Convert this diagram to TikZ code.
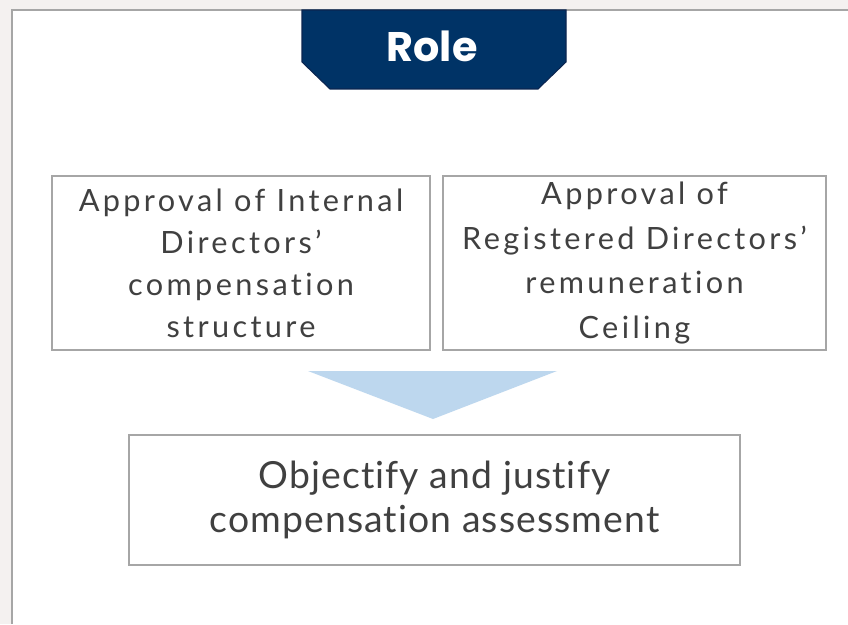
\documentclass[tikz,border=0pt]{standalone}
\usepackage{fontspec}
\setmainfont{Lato}[Ligatures={NoCommon},LetterSpace=3]
\newfontfamily\thinfont{Lato}[Ligatures={NoCommon},LetterSpace=11]
\newfontfamily\headfont{Poppins}
\definecolor{navyband}{HTML}{003366}
\definecolor{navyedge}{HTML}{0B2550}
\definecolor{paleblue}{HTML}{BDD7EE}
\definecolor{framegray}{HTML}{A6A6A6}
\definecolor{textgray}{HTML}{404040}
\definecolor{pagegray}{HTML}{F4F1F0}
\tikzset{
  itembox/.style={draw=framegray,line width=1.1pt,inner sep=0pt,align=center,text=textgray},
  thintext/.style={font=\thinfont\fontsize{23}{31.5}\selectfont},
  goaltext/.style={font=\fontsize{28}{32.5}\selectfont}
}
\begin{document}
\begin{tikzpicture}[x=0.75pt,y=0.75pt,yscale=-1]
\useasboundingbox (0,0) rectangle (848,624);

%Page and frame
\fill[pagegray] (0,0) rectangle (848,624);
\fill[white] (12,10) rectangle (848,624);
\draw[framegray,line width=1.1pt] (12,624) -- (12,10) -- (848,10) ;

%Shape: Banner
\draw[navyedge,fill=navyband,line width=0.8pt] (302,10) -- (566,10) -- (566,62) -- (538,89) -- (330,89) -- (302,62) -- cycle ;
% Text Node
\node[anchor=base,text=white,font=\headfont\bfseries\fontsize{31}{36}\selectfont] (role) at (432,62) {Role};

%Shape: Rectangle
\node[itembox,thintext,minimum width=283.5pt,minimum height=130.5pt] (internal) at (241,263)
  {Approval of Internal\\Directors’\\compensation\\structure};
%Shape: Rectangle
\node[itembox,thintext,minimum width=287.25pt,minimum height=130.5pt,
  font=\thinfont\fontsize{23}{33.5}\selectfont] (registered) at (634.5,263)
  {Approval of\\Registered Directors’\\remuneration\\Ceiling};

%Shape: Triangle
\fill[paleblue] (308,371) -- (557,371) -- (433,419) -- cycle ;

%Shape: Rectangle
\node[itembox,goaltext,minimum width=458.25pt,minimum height=97.5pt] (goal) at (434.5,500)
  {Objectify and justify\\compensation assessment};

\end{tikzpicture}
\end{document}
